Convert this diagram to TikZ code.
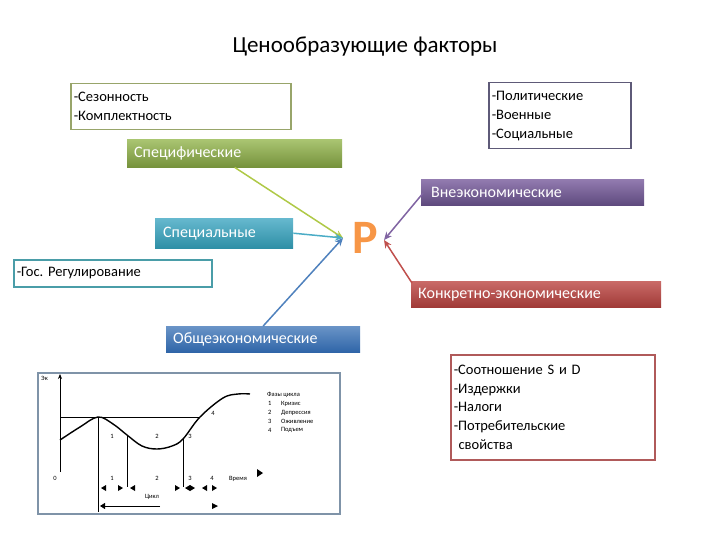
\documentclass[tikz,border=0pt]{standalone}
\usepackage{fontspec}
\setmainfont{Carlito}
\usetikzlibrary{arrows.meta,positioning,calc}
\definecolor{specgreen}{HTML}{9BBB59}
\definecolor{specdark}{HTML}{76923C}
\definecolor{extrapurple}{HTML}{8064A2}
\definecolor{extradark}{HTML}{5F4A7E}
\definecolor{spcteal}{HTML}{4BACC6}
\definecolor{spcdark}{HTML}{2E8FA6}
\definecolor{concred}{HTML}{C0504D}
\definecolor{concdark}{HTML}{A03A37}
\definecolor{genblue}{HTML}{4F81BD}
\definecolor{gendark}{HTML}{2F65A8}
\definecolor{priceorange}{HTML}{F79646}
\definecolor{seasonline}{HTML}{98A56A}
\definecolor{politline}{HTML}{5E5A78}
\definecolor{gosline}{HTML}{4A9DA8}
\definecolor{ratioline}{HTML}{B05A5A}
\definecolor{graphline}{HTML}{7F93A8}
\frenchspacing
\tikzset{%
  list box/.style={
    draw,
    line width=1.5pt,
    fill=white,
    anchor=north west,
    align=left,
    inner xsep=3pt,
    inner ysep=2pt,
    font=\fontsize{14.5}{19}\selectfont
  },
  factor box/.style={
    anchor=north west,
    align=left,
    text=white,
    inner xsep=7pt,
    inner ysep=0pt,
    font=\fontsize{16}{18}\selectfont
  },
  factor arrow/.style={
    line width=1.5pt,
    -{Stealth[length=8pt,width=7pt]}
  },
  graph tiny/.style={
    font=\fontsize{6.5}{7}\selectfont,
    inner sep=0pt
  },
}
\begin{document}
\begin{tikzpicture}[x=1pt, y=-1pt]
\useasboundingbox (0,0) rectangle (720,540);

\node [font=\fontsize{23}{26}\selectfont] (title) at (365,47) {Ценообразующие факторы};

% lists of factors
\node [list box, draw=seasonline, text width=214pt, minimum height=46pt] (season) at (70,83)
  {-Сезонность\\-Комплектность};
\node [list box, draw=politline, text width=136pt, minimum height=66pt] (polit) at (488,82)
  {-Политические\\-Военные\\-Социальные};
\node [list box, draw=gosline, text width=192pt, minimum height=27pt] (gos) at (13,259)
  {-Гос. Регулирование};
\node [list box, draw=ratioline, text width=198pt, minimum height=105pt, font=\fontsize{14.5}{18.7}\selectfont] (ratio) at (450,354)
  {-Соотношение S и D\\-Издержки\\-Налоги\\-Потребительские\\\ свойства};

% groups of factors
\node [factor box, top color=specgreen!85!white, bottom color=specdark, text width=201pt, minimum height=28pt] (spec) at (127,139) {Специфические};
\node [factor box, top color=extrapurple!85!white, bottom color=extradark, text width=203pt, minimum height=26pt, inner xsep=10pt] (extra) at (421,179) {Внеэкономические};
\node [factor box, top color=spcteal!85!white, bottom color=spcdark, text width=122pt, minimum height=30pt, inner xsep=8pt] (spcl) at (155,218) {Специальные};
\node [factor box, top color=concred!85!white, bottom color=concdark, text width=236pt, minimum height=26pt] (concrete) at (411,281) {Конкретно-экономические};
\node [factor box, top color=genblue!85!white, bottom color=gendark, text width=180pt, minimum height=26pt] (general) at (166,326) {Общеэкономические};

% price
\node [font=\fontsize{48}{48}\selectfont\bfseries, text=priceorange, inner sep=0pt] (price) at (365,238) {P};
\coordinate (price in) at (343,238);
\coordinate (price out) at (384,240);

\draw [factor arrow, specgreen!80!yellow] (spec.south) -- (price in);
\draw [factor arrow, spcteal] (spcl.east) -- (price in);
\draw [factor arrow, genblue] (general.north) -- (price in);
\draw [factor arrow, extrapurple] ($(extra.west)+(2,1)$) -- (price out);
\draw [factor arrow, concred] ($(concrete.north west)+(1,2)$) -- (price out);

% business cycle graph
\node [draw=graphline, line width=2pt, fill=white, minimum width=302pt, minimum height=141pt, anchor=north west, inner sep=0pt] (graph) at (37,372) {};
\draw [-{Stealth[length=5pt,width=4pt]}, line width=0.8pt] (60,472) -- (60,374);
\node [graph tiny, anchor=west] (ylabel) at (41,378) {Эк};
\draw [line width=0.8pt] (60,417) -- (200,417);
\draw [line width=1.4pt] plot [smooth, tension=0.6] coordinates
  {(60,440) (80,427) (98,417) (113,424) (127,435) (142,446) (157,449) (172,446) (183,439) (200,417) (223,398) (238,394) (250,394)};
\draw [line width=0.8pt] (98,417) -- (98,512);
\draw [line width=0.8pt] (127,435) -- (127,487);
\draw [line width=0.8pt] (183,439) -- (183,487);
\foreach \x/\n in {112/1, 157/2, 190/3}
  \node [graph tiny] (phase-\n) at (\x,436) {\n};
\node [graph tiny] (phase-4) at (213,413) {4};
\foreach \x/\n in {55/0, 112/1, 157/2, 190/3, 212/4}
  \node [graph tiny] (tick-\n) at (\x,478) {\n};
\node [graph tiny, anchor=west] (time) at (229,479) {Время};
\fill (257,469) -- (263,473) -- (257,477) -- cycle;
\foreach \x in {123,180,195,217}
  \fill (\x-5,485) -- (\x,488) -- (\x-5,491) -- cycle;
\foreach \x in {101,130,185,202}
  \fill (\x+5,485) -- (\x,488) -- (\x+5,491) -- cycle;
\node [graph tiny] (cycle) at (152,497) {Цикл};
\draw [-{Triangle[length=5pt,width=6pt]}, line width=0.8pt] (160,506) -- (100,506);
\fill (212,503) -- (218,506) -- (212,509) -- cycle;

% legend of phases
\node [graph tiny, anchor=west] (legend) at (267,395) {Фазы цикла};
\foreach \n/\w [count=\i] in {1/Кризис, 2/Депрессия, 3/Оживление, 4/Подъем} {
  \node [graph tiny, anchor=west] (legend-\n) at (268,395+\i*8.8) {\n};
  \node [graph tiny, anchor=west] (legend-w\n) at (281,395+\i*8.8) {\w};
}

\end{tikzpicture}
\end{document}
